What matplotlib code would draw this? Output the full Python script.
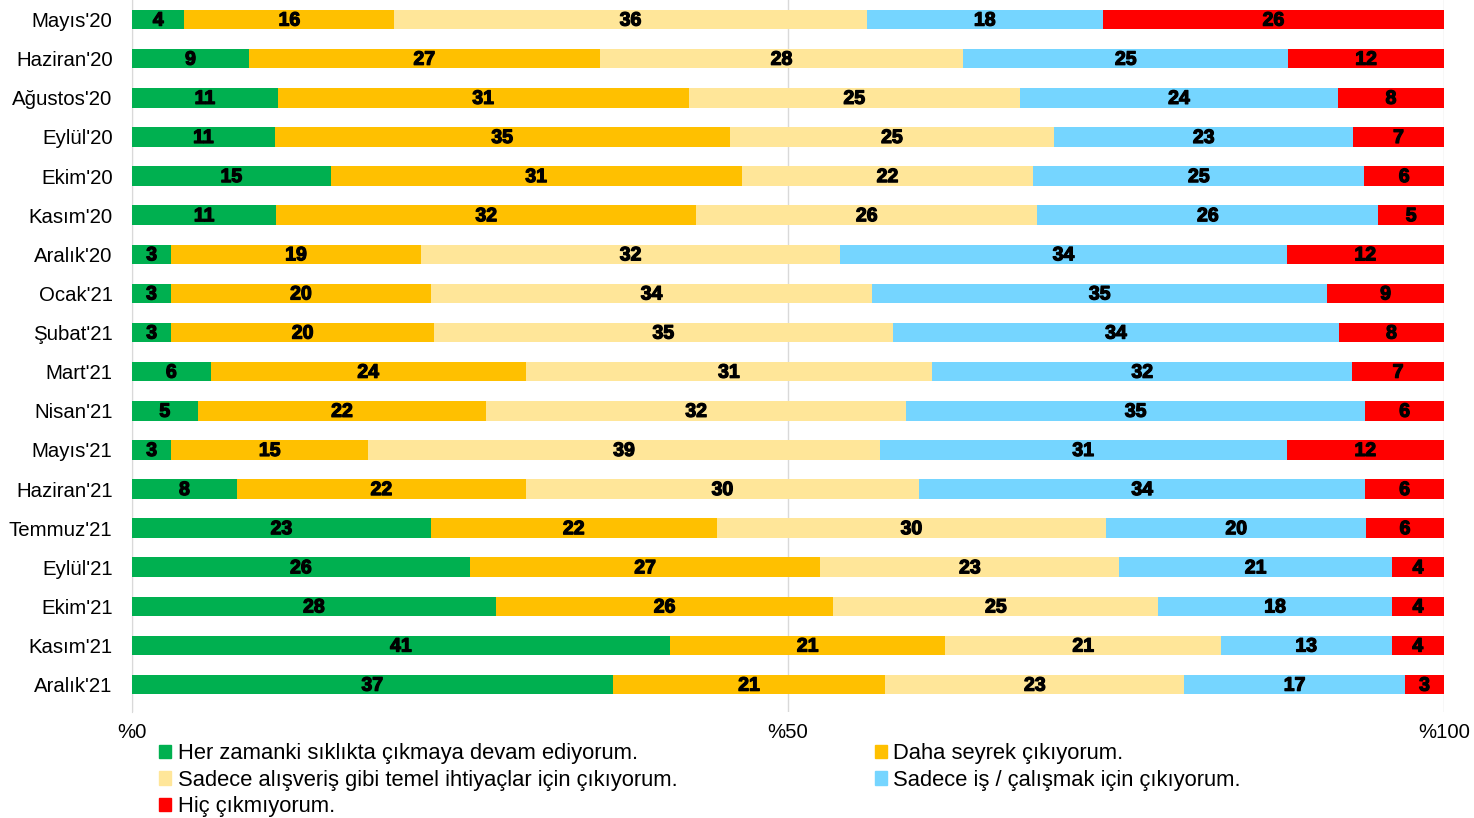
import numpy as np
import matplotlib.pyplot as plt
import matplotlib.patheffects as pe
from matplotlib.patches import Patch

months = ["Mayıs'20", "Haziran'20", "Ağustos'20", "Eylül'20", "Ekim'20", "Kasım'20",
          "Aralık'20", "Ocak'21", "Şubat'21", "Mart'21", "Nisan'21", "Mayıs'21",
          "Haziran'21", "Temmuz'21", "Eylül'21", "Ekim'21", "Kasım'21", "Aralık'21"]

her_zamanki = [4, 9, 11, 11, 15, 11, 3, 3, 3, 6, 5, 3, 8, 23, 26, 28, 41, 37]
daha_seyrek = [16, 27, 31, 35, 31, 32, 19, 20, 20, 24, 22, 15, 22, 22, 27, 26, 21, 21]
temel_ihtiyac = [36, 28, 25, 25, 22, 26, 32, 34, 35, 31, 32, 39, 30, 30, 23, 25, 21, 23]
sadece_is = [18, 25, 24, 23, 25, 26, 34, 35, 34, 32, 35, 31, 34, 20, 21, 18, 13, 17]
hic = [26, 12, 8, 7, 6, 5, 12, 9, 8, 7, 6, 12, 6, 6, 4, 4, 4, 3]

series = [
    ("Her zamanki sıklıkta çıkmaya devam ediyorum.", her_zamanki, "#00B050"),
    ("Daha seyrek çıkıyorum.", daha_seyrek, "#FFC000"),
    ("Sadece alışveriş gibi temel ihtiyaçlar için çıkıyorum.", temel_ihtiyac, "#FFE699"),
    ("Sadece iş / çalışmak için çıkıyorum.", sadece_is, "#75D5FF"),
    ("Hiç çıkmıyorum.", hic, "#FF0000"),
]

FONT = ["Liberation Sans", "DejaVu Sans"]

vals = np.array([s[1] for s in series], dtype=float)
totals = vals.sum(axis=0)
shares = vals / totals * 100

fig = plt.figure(figsize=(14.74, 8.18), dpi=100)
ax = fig.add_axes([132 / 1474, 1 - 712 / 818, 1312 / 1474, 712 / 818])

y = np.arange(len(months))
left = np.zeros(len(months))
heavy = [pe.withStroke(linewidth=0.9, foreground="black")]
for i, (name, raw, color) in enumerate(series):
    w = shares[i]
    ax.barh(y, w, left=left, height=0.5, color=color, zorder=3)
    for yi, (l, wi, r) in enumerate(zip(left, w, raw)):
        ax.text(l + wi / 2, yi + 0.04, str(r), ha="center", va="center",
                fontsize=14, fontweight="bold", family=FONT, color="black",
                zorder=4, path_effects=heavy)
    left += w

ax.set_xlim(0, 100)
ax.set_ylim(len(months) - 0.3, -0.5)
ax.set_yticks(y)
ax.set_yticklabels(months, family=FONT, fontsize=14.7)
ax.set_xticks([0, 50, 100])
ax.set_xticklabels(["%0", "%50", "%100"], family=FONT, fontsize=14.7)
ax.tick_params(axis="both", length=0)
ax.tick_params(axis="y", pad=14)
ax.tick_params(axis="x", pad=8)
for side in ["top", "right", "bottom"]:
    ax.spines[side].set_visible(False)
ax.spines["left"].set_color("#D9D9D9")
ax.xaxis.grid(True, color="#D9D9D9", linewidth=1, zorder=0)

handles = [Patch(color=s[2]) for s in series]
labels = [s[0] for s in series]
order = [0, 2, 4, 1, 3]
fig.legend([handles[i] for i in order], [labels[i] for i in order],
           loc="upper left", bbox_to_anchor=(159 / 1474, 1 - 743 / 818), ncol=2,
           frameon=False, prop={"family": FONT, "size": 15.8},
           handlelength=0.55, handleheight=0.55, handletextpad=0.3,
           labelspacing=0.26, columnspacing=9.0, borderpad=0, borderaxespad=0)

fig.savefig("out.png", dpi=100)
